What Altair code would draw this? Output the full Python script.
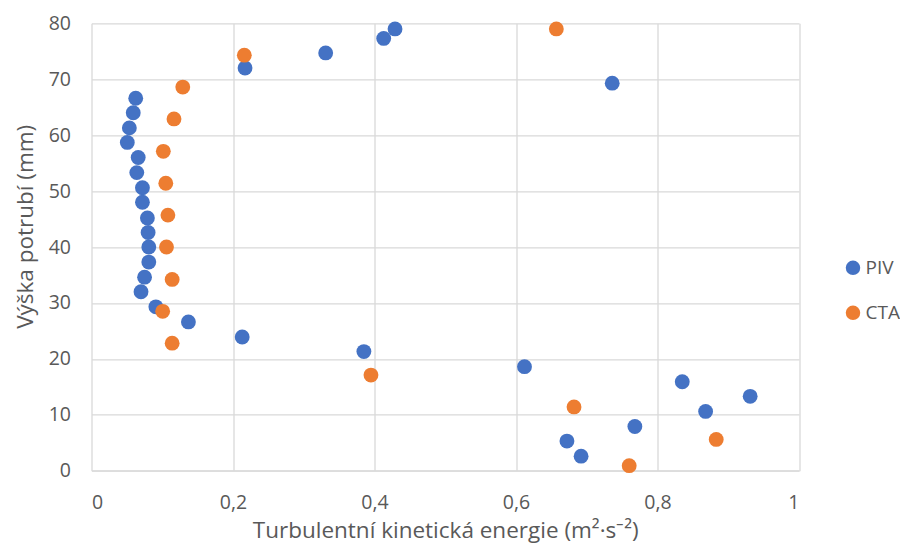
import altair as alt
import pandas as pd

piv_x = [0.429, 0.413, 0.331, 0.217, 0.736, 0.0625, 0.059, 0.0535, 0.0506, 0.066,
         0.064, 0.072, 0.072, 0.079, 0.080, 0.081, 0.081, 0.075, 0.070, 0.091,
         0.137, 0.213, 0.385, 0.612, 0.835, 0.931, 0.868, 0.768, 0.672, 0.692]
piv_y = [79.0, 77.3, 74.7, 72.0, 69.3, 66.6, 64.0, 61.3, 58.7, 56.0,
         53.3, 50.6, 48.0, 45.2, 42.6, 40.0, 37.3, 34.6, 32.0, 29.3,
         26.6, 23.9, 21.3, 18.6, 15.9, 13.3, 10.6, 7.9, 5.3, 2.6]

cta_x = [0.657, 0.216, 0.129, 0.1166, 0.1015, 0.105, 0.108, 0.106, 0.114, 0.1006,
         0.114, 0.395, 0.682, 0.883, 0.760]
cta_y = [79.0, 74.3, 68.6, 62.9, 57.1, 51.4, 45.7, 40.0, 34.2, 28.5,
         22.8, 17.1, 11.4, 5.6, 0.9]

series = ["PIV", "CTA"]
colors = ["#4472C4", "#ED7D31"]
x_ticks = [0, 0.2, 0.4, 0.6, 0.8, 1]
y_ticks = [0, 10, 20, 30, 40, 50, 60, 70, 80]

df = pd.concat([
    pd.DataFrame({"x": piv_x, "y": piv_y, "s": "PIV"}),
    pd.DataFrame({"x": cta_x, "y": cta_y, "s": "CTA"}),
])

FONT = "Open Sans"
GRID = "#d9d9d9"
TXT = "#595959"
LBL = 19.5
TTL = 22.5

chart = alt.Chart(df).mark_point(filled=True, opacity=1, size=220, shape="circle").encode(
    x=alt.X("x:Q", scale=alt.Scale(domain=[0, 1], nice=False),
            axis=alt.Axis(values=x_ticks, title="Turbulentní kinetická energie (m²·s⁻²)",
                          labelExpr="replace(toString(datum.value), '.', ',')",
                          grid=True, gridColor=GRID, gridWidth=1.3,
                          domain=True, domainColor=GRID, domainWidth=1.3,
                          ticks=False, labelPadding=23,
                          titleY=66.5, titleBaseline="alphabetic",
                          labelFontSize=LBL, titleFontSize=TTL,
                          labelColor=TXT, titleColor=TXT, labelFont=FONT, titleFont=FONT,
                          titleFontWeight="normal")),
    y=alt.Y("y:Q", scale=alt.Scale(domain=[0, 80], nice=False),
            axis=alt.Axis(values=y_ticks, title="Výška potrubí (mm)",
                          grid=True, gridColor=GRID, gridWidth=1.3,
                          domain=False, ticks=False, labelPadding=21,
                          titleX=-54, titleY=203, titleBaseline="bottom",
                          labelFontSize=LBL, titleFontSize=TTL,
                          labelColor=TXT, titleColor=TXT, labelFont=FONT, titleFont=FONT,
                          titleFontWeight="normal")),
    color=alt.Color("s:N", scale=alt.Scale(domain=series, range=colors),
                    legend=alt.Legend(title=None, orient="none", legendX=752, legendY=235,
                                      padding=0, symbolSize=210, symbolType="circle",
                                      symbolStrokeWidth=0, symbolOffset=0,
                                      labelFontSize=19, labelFont=FONT, labelColor=TXT,
                                      labelOffset=3, rowPadding=25)),
).properties(
    width=707.5, height=447.4,
    autosize=alt.AutoSizeParams(type="none"),
    padding={"left": 83.5, "top": 15.3, "right": 101, "bottom": 74.3},
).configure_view(stroke=None)

chart.save("out.html", embed_options={"renderer": "svg", "actions": False})
